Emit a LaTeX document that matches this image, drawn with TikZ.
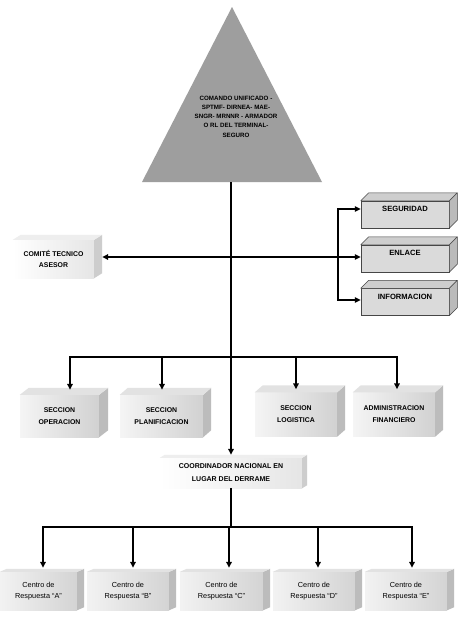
\documentclass[tikz,border=0pt]{standalone}
\usepackage{fontspec}
\setmainfont{Liberation Sans}
\usetikzlibrary{arrows.meta,calc}
\definecolor{trigray}{RGB}{158,158,158}
\definecolor{rface}{RGB}{218,218,218}
\definecolor{rtop}{RGB}{206,206,206}
\definecolor{rside}{RGB}{186,186,186}
\definecolor{rline}{RGB}{70,70,70}
\definecolor{fside}{RGB}{188,188,188}
\definecolor{ftop}{RGB}{226,226,226}
\newcommand\extrude[4]{%
  \path[#4 side] (#1.north east) -- ++(#2,-#3) -- ([shift={(#2,-#3)}]#1.south east) -- (#1.south east) -- cycle;
  \path[#4 top] (#1.north west) -- ++(#2,-#3) -- ([shift={(#2,-#3)}]#1.north east) -- (#1.north east) -- cycle;}
\tikzset{
  rb side/.style={fill=rside,draw=rline,line width=0.5pt,line join=round},
  rb top/.style={fill=rtop,draw=rline,line width=0.5pt,line join=round},
  fb side/.style={fill=fside},
  fb top/.style={fill=ftop},
  lb side/.style={fill=fside!75!white},
  lb top/.style={fill=ftop!60!white},
  face/.style={rectangle, inner sep=0pt, align=center},
  rbox/.style={face, fill=rface, draw=rline, line width=0.5pt,
    font=\bfseries\fontsize{7.6}{9}\selectfont, text height=10.5pt, text depth=16.5pt},
  fbox/.style={face, left color=black!4, right color=black!18,
    font=\bfseries\fontsize{6.9}{12}\selectfont},
  lbox/.style={face, left color=white, right color=black!10,
    font=\bfseries\fontsize{6.9}{11}\selectfont},
  cbox/.style={face, left color=black!5, right color=black!17,
    font=\fontsize{7.3}{11}\selectfont},
  conn/.style={line width=1.6pt, -{Triangle[length=6pt,width=5.5pt]}},
  plain/.style={line width=1.6pt}
}
\begin{document}
\begin{tikzpicture}[x=1pt,y=-1pt]
\fill[white] (0,0) rectangle (461,619);
\useasboundingbox (0,0) rectangle (461,619);

% triangle
\coordinate (apex) at (232,7);
\coordinate (triR) at (322,182);
\coordinate (triL) at (142,182);
\coordinate (tribase) at (231,182);
\fill[trigray] (apex) -- (triR) -- (triL) -- cycle;
\node[face, font=\bfseries\fontsize{6.2}{9.3}\selectfont] (cmd) at (236,116.5)
  {COMANDO UNIFICADO -\\SPTMF- DIRNEA- MAE-\\SNGR- MRNNR - ARMADOR\\O RL DEL TERMINAL-\\SEGURO};

% right boxes
\node[rbox, minimum width=88pt, minimum height=27pt] (seg) at (405,214.5) {SEGURIDAD};
\node[rbox, minimum width=88pt, minimum height=27pt] (enl) at (405,258.5) {ENLACE};
\node[rbox, minimum width=88pt, minimum height=27pt] (inf) at (405,302) {INFORMACION};
\extrude{seg}{8}{8}{rb}
\extrude{enl}{8}{8}{rb}
\extrude{inf}{8}{8}{rb}

% comite
\node[lbox, minimum width=81pt, minimum height=38pt] (cta) at (53.5,259) {COMITÉ TECNICO\\ASESOR};
\extrude{cta}{8}{5}{lb}

% row 2
\node[fbox, minimum width=79pt, minimum height=42pt] (opr) at (59.5,416) {SECCION\\OPERACION};
\node[fbox, minimum width=83pt, minimum height=42pt] (pla) at (161.5,416) {SECCION\\PLANIFICACION};
\node[fbox, minimum width=82pt, minimum height=44pt] (log) at (296,414.5) {SECCION\\LOGISTICA};
\node[fbox, minimum width=82pt, minimum height=44pt] (adm) at (394,414.5) {ADMINISTRACION\\FINANCIERO};
\extrude{opr}{9}{7}{fb}
\extrude{pla}{8}{7}{fb}
\extrude{log}{8}{7}{fb}
\extrude{adm}{8}{7}{fb}

% coordinador
\node[lbox, font=\bfseries\fontsize{7}{13}\selectfont, minimum width=142pt, minimum height=30pt] (coord) at (231,473) {COORDINADOR NACIONAL EN\\LUGAR DEL DERRAME};
\extrude{coord}{5}{3}{lb}

% bottom row
\node[cbox, minimum width=77pt, minimum height=38pt] (ca) at (38.5,591) {Centro de\\Respuesta “A”};
\node[cbox, minimum width=82pt, minimum height=38pt] (cb) at (128,591) {Centro de\\Respuesta “B”};
\node[cbox, minimum width=83pt, minimum height=38pt] (cc) at (221.5,591) {Centro de\\Respuesta “C”};
\node[cbox, minimum width=82pt, minimum height=38pt] (cd) at (314,591) {Centro de\\Respuesta “D”};
\node[cbox, minimum width=82pt, minimum height=38pt] (ce) at (406,591) {Centro de\\Respuesta “E”};
\extrude{ca}{7}{3}{fb}
\extrude{cb}{7}{3}{fb}
\extrude{cc}{7}{3}{fb}
\extrude{cd}{7}{3}{fb}
\extrude{ce}{7}{3}{fb}

% connectors
\coordinate (hub1) at (231,257);
\coordinate (br) at (338,257);
\coordinate (hub2) at (231,357);
\coordinate (hub3) at (231,527);

\draw[conn] (tribase) -- ([yshift=3pt]coord.north);
\draw[conn] (hub1) -- ([xshift=8pt,yshift=2pt]cta.east);
\draw[conn] (hub1) -- (enl.west |- hub1);
\draw[conn] (br) |- ([yshift=5.5pt]seg.west);
\draw[conn] (br) |- ([yshift=2pt]inf.west);

\draw[conn] (hub2) -| ([xshift=10.5pt,yshift=5pt]opr.north);
\draw[conn] (hub2) -| ([xshift=0.5pt,yshift=5pt]pla.north);
\draw[conn] (hub2) -| ([yshift=3pt]log.north);
\draw[conn] (hub2) -| ([xshift=3pt,yshift=3pt]adm.north);

\draw[plain] (coord.south) -- (hub3);
\draw[conn] (hub3) -| ([xshift=4.5pt,yshift=4pt]ca.north);
\draw[conn] (hub3) -| ([xshift=5pt,yshift=4pt]cb.north);
\draw[conn] (hub3) -| ([xshift=7.5pt,yshift=4pt]cc.north);
\draw[conn] (hub3) -| ([xshift=4pt,yshift=4pt]cd.north);
\draw[conn] (hub3) -| ([xshift=6pt,yshift=4pt]ce.north);
\end{tikzpicture}
\end{document}
